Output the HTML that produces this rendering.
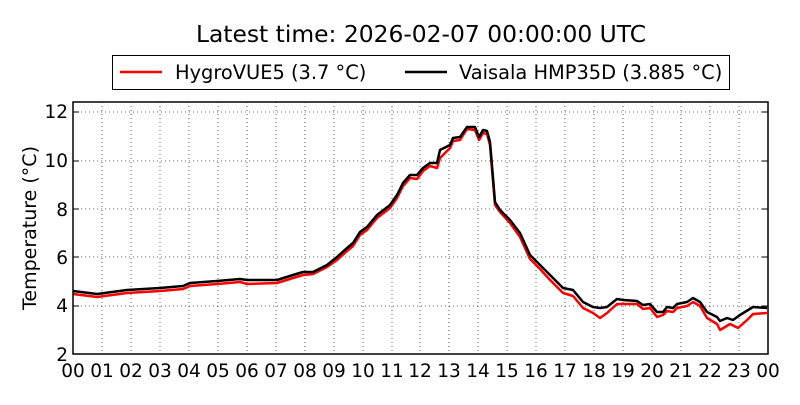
<!DOCTYPE html>
<html><head><meta charset="utf-8"><style>
body{margin:0;background:#fff;}
svg text{font-family:"DejaVu Sans","Liberation Sans",sans-serif;fill:#000;}
</style></head><body>
<svg width="800" height="400" xmlns="http://www.w3.org/2000/svg">
<rect width="800" height="400" fill="#fff"/>
<text x="421" y="42" font-size="23.4" text-anchor="middle">Latest time: 2026-02-07 00:00:00 UTC</text>
<rect x="112.5" y="55.5" width="617" height="34" fill="#fff" stroke="#000" stroke-width="1"/>
<line x1="120" y1="72" x2="162" y2="72" stroke="#f00" stroke-width="2.5"/>
<text x="175" y="79" font-size="19.4">HygroVUE5 (3.7 °C)</text>
<line x1="405" y1="72" x2="447" y2="72" stroke="#000" stroke-width="2.5"/>
<text x="459" y="79" font-size="19.4">Vaisala HMP35D (3.885 °C)</text>
<g stroke="#000" stroke-width="0.8" stroke-dasharray="1,3" opacity="0.8">
<line x1="102" y1="102" x2="102" y2="354"/><line x1="131" y1="102" x2="131" y2="354"/><line x1="160" y1="102" x2="160" y2="354"/><line x1="189" y1="102" x2="189" y2="354"/><line x1="218" y1="102" x2="218" y2="354"/><line x1="247" y1="102" x2="247" y2="354"/><line x1="276" y1="102" x2="276" y2="354"/><line x1="305" y1="102" x2="305" y2="354"/><line x1="334" y1="102" x2="334" y2="354"/><line x1="363" y1="102" x2="363" y2="354"/><line x1="392" y1="102" x2="392" y2="354"/><line x1="420" y1="102" x2="420" y2="354"/><line x1="449" y1="102" x2="449" y2="354"/><line x1="478" y1="102" x2="478" y2="354"/><line x1="507" y1="102" x2="507" y2="354"/><line x1="536" y1="102" x2="536" y2="354"/><line x1="565" y1="102" x2="565" y2="354"/><line x1="594" y1="102" x2="594" y2="354"/><line x1="623" y1="102" x2="623" y2="354"/><line x1="652" y1="102" x2="652" y2="354"/><line x1="681" y1="102" x2="681" y2="354"/><line x1="710" y1="102" x2="710" y2="354"/><line x1="739" y1="102" x2="739" y2="354"/>
<line x1="73" y1="112" x2="768" y2="112"/><line x1="73" y1="161" x2="768" y2="161"/><line x1="73" y1="209" x2="768" y2="209"/><line x1="73" y1="257" x2="768" y2="257"/><line x1="73" y1="306" x2="768" y2="306"/>
</g>
<polyline fill="none" stroke="#f00" stroke-width="2.5" stroke-linejoin="round" points="73,294 97,297 127,293 160,291 183,289 190,286 217,284 240,282 247,284 277,283 293,278 303,275 313,274 327,267 337,260 347,251 353,246 360,235 367,230 377,218 390,208 397,198 403,186 410,178 417,179 423,171 430,166 437,168 440,158 450,148 453,141 460,140 467,129 475,130 479,140 483,133 487,134 490,145 495,205 500,212 510,223 520,237 530,259 540,269 550,280 563,293 573,296 583,308 593,313 600,318 607,313 617,304 623,304 637,304 643,309 650,308 657,317 663,315 667,311 673,312 677,308 687,306 693,302 700,306 707,318 717,324 720,330 730,324 738,328 747,320 753,314 767,313"/>
<polyline fill="none" stroke="#000" stroke-width="2.5" stroke-linejoin="round" points="73,291 97,294 127,290 160,288 183,286 190,283 217,281 240,279 247,280 277,280 293,275 303,272 313,272 327,265 337,257 347,248 353,243 360,232 367,227 377,215 390,205 397,195 403,183 410,175 417,175 423,168 430,163 437,163 440,150 450,145 453,138 460,137 467,127 475,127 479,137 483,130 487,131 490,142 495,202 500,210 510,220 520,233 530,255 540,265 550,275 563,288 573,290 583,302 593,307 600,308 607,307 617,299 623,300 637,301 643,305 650,304 657,312 663,312 667,307 673,308 677,304 687,302 693,298 700,302 707,312 717,317 720,321 727,318 733,320 740,315 753,307 767,308"/>
<rect x="73" y="102" width="695" height="252" fill="none" stroke="#000" stroke-width="1.5"/>
<g stroke="#000" stroke-width="1">
<line x1="73" y1="112" x2="79" y2="112"/><line x1="73" y1="161" x2="79" y2="161"/><line x1="73" y1="209" x2="79" y2="209"/><line x1="73" y1="257" x2="79" y2="257"/><line x1="73" y1="306" x2="79" y2="306"/>
<line x1="768" y1="112" x2="762" y2="112"/><line x1="768" y1="161" x2="762" y2="161"/><line x1="768" y1="209" x2="762" y2="209"/><line x1="768" y1="257" x2="762" y2="257"/><line x1="768" y1="306" x2="762" y2="306"/>
</g>
<g font-size="18.5" text-anchor="end">
<text x="68" y="118">12</text><text x="68" y="167">10</text><text x="68" y="216">8</text><text x="68" y="264">6</text><text x="68" y="312">4</text><text x="68" y="361">2</text>
</g>
<g font-size="18.5" text-anchor="middle">
<text x="73" y="377">00</text><text x="102" y="377">01</text><text x="131" y="377">02</text><text x="160" y="377">03</text><text x="189" y="377">04</text><text x="218" y="377">05</text><text x="247" y="377">06</text><text x="276" y="377">07</text><text x="305" y="377">08</text><text x="334" y="377">09</text><text x="363" y="377">10</text><text x="392" y="377">11</text><text x="420" y="377">12</text><text x="449" y="377">13</text><text x="478" y="377">14</text><text x="507" y="377">15</text><text x="536" y="377">16</text><text x="565" y="377">17</text><text x="594" y="377">18</text><text x="623" y="377">19</text><text x="652" y="377">20</text><text x="681" y="377">21</text><text x="710" y="377">22</text><text x="739" y="377">23</text><text x="768" y="377">00</text>
</g>
<text x="36" y="228" font-size="19" text-anchor="middle" transform="rotate(-90 36 228)">Temperature (°C)</text>
</svg>
</body></html>
